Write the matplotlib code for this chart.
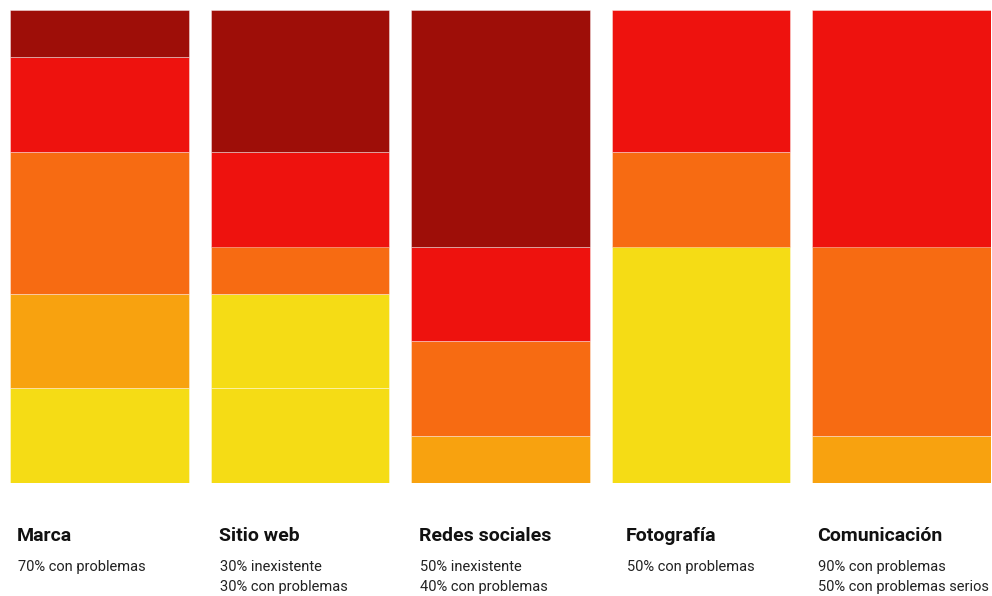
import matplotlib.pyplot as plt

# categorias y notas
categories = ['Marca', 'Sitio web', 'Redes sociales', 'Fotografía', 'Comunicación']
notes = [
    ['70% con problemas'],
    ['30% inexistente', '30% con problemas'],
    ['50% inexistente', '40% con problemas'],
    ['50% con problemas'],
    ['90% con problemas', '50% con problemas serios'],
]

# segmentos de abajo hacia arriba (nivel, unidades de 10%)
segments = [
    [('amarillo', 2), ('ambar', 2), ('naranja', 3), ('rojo', 2), ('granate', 1)],
    [('amarillo', 2), ('amarillo', 2), ('naranja', 1), ('rojo', 2), ('granate', 3)],
    [('ambar', 1), ('naranja', 2), ('rojo', 2), ('granate', 5)],
    [('amarillo', 5), ('naranja', 2), ('rojo', 3)],
    [('ambar', 1), ('naranja', 4), ('rojo', 5)],
]

colors = {
    'granate': '#9e0e08',
    'rojo': '#ee120e',
    'naranja': '#f76b12',
    'ambar': '#f8a20f',
    'amarillo': '#f5dc15',
}

plt.rcParams['font.family'] = ['Roboto', 'DejaVu Sans']

W, H = 992, 596
fig = plt.figure(figsize=(W / 100, H / 100), dpi=100)
ax = fig.add_axes([10 / W, (H - 483) / H, 981 / W, 473 / H])

bar_w = 0.89
for i, segs in enumerate(segments):
    bottom = 0
    for level, val in segs:
        ax.bar(i, val, bottom=bottom, width=bar_w, color=colors[level],
               edgecolor=(1, 1, 1, 0.45), linewidth=0.6)
        bottom += val

ax.set_xlim(-bar_w / 2, 4 + bar_w / 2)
ax.set_ylim(0, 10)
ax.axis('off')

# textos debajo de cada barra
offsets = [7, 8, 8, 14, 5]
for i, (cat, lines) in enumerate(zip(categories, notes)):
    x0 = i - bar_w / 2
    xf = ax.transData.transform((x0, 0))[0] / W + offsets[i] / W
    fig.text(xf, 1 - 536 / H, cat, fontsize=14, fontweight='bold',
             color='#111111', va='center', ha='left')
    for j, line in enumerate(lines):
        fig.text(xf + 1 / W, 1 - (567 + 20 * j) / H, line, fontsize=10.5,
                 color='#222222', va='center', ha='left')

fig.savefig('out.png', dpi=100, facecolor='white')
